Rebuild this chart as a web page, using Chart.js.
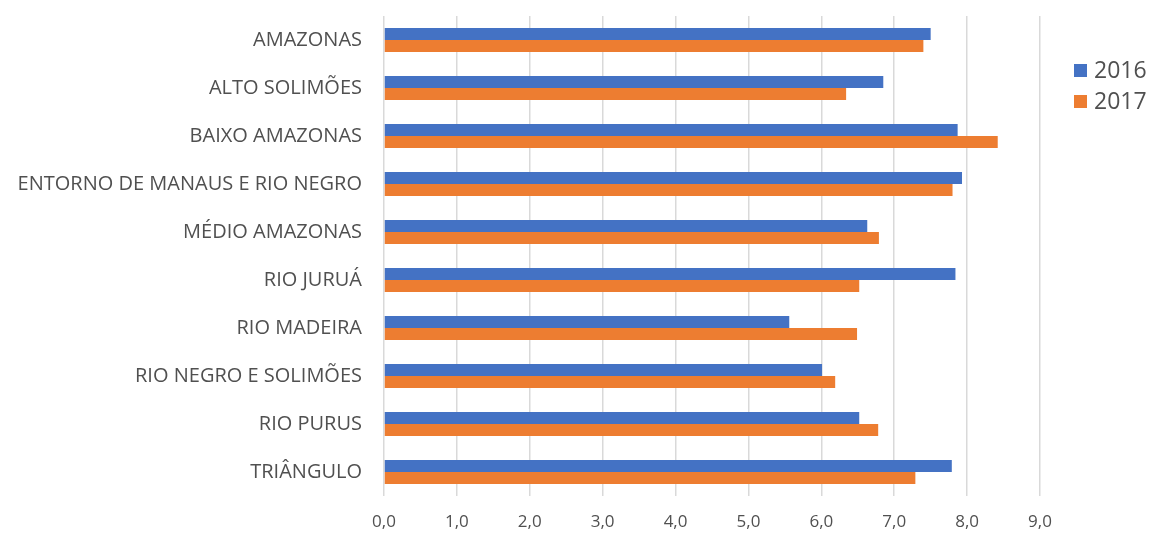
<!DOCTYPE html>
<html>
<head>
<meta charset="utf-8">
<script src="https://cdn.jsdelivr.net/npm/chart.js@4/dist/chart.umd.min.js"></script>
<style>
  html, body { margin: 0; padding: 0; background: #fff; }
  #wrap { width: 1154px; height: 536px; position: relative; }
</style>
</head>
<body>
<div id="wrap"><canvas id="myChart"></canvas></div>
<script>
const categories = [
    'AMAZONAS',
    'ALTO SOLIMÕES',
    'BAIXO AMAZONAS',
    'ENTORNO DE MANAUS E RIO NEGRO',
    'MÉDIO AMAZONAS',
    'RIO JURUÁ',
    'RIO MADEIRA',
    'RIO NEGRO E SOLIMÕES',
    'RIO PURUS',
    'TRIÂNGULO',
];
const values2016 = [7.50, 6.85, 7.87, 7.93, 6.63, 7.84, 5.56, 6.01, 6.52, 7.79];
const values2017 = [7.40, 6.34, 8.42, 7.80, 6.79, 6.52, 6.49, 6.19, 6.78, 7.29];
const seriesLabels = ['2016', '2017'];
const xTicks = [0, 1, 2, 3, 4, 5, 6, 7, 8, 9];

const blue = '#4472C4';
const orange = '#ED7D31';
const textColor = '#505050';
const gridColor = '#d9d9d9';
const fontFamily = "'Open Sans', sans-serif";

// legend drawn by hand so it can sit near the top right like the original
const sideLegend = {
    id: 'sideLegend',
    afterDraw(chart) {
        const ctx = chart.ctx;
        ctx.save();
        ctx.font = '23px ' + fontFamily;
        ctx.textBaseline = 'middle';
        ctx.textAlign = 'left';
        chart.data.datasets.forEach((ds, i) => {
            const y = 70 + i * 31;
            ctx.fillStyle = ds.backgroundColor;
            ctx.fillRect(1074, y - 6, 13, 13);
            ctx.fillStyle = textColor;
            ctx.fillText(ds.label, 1094, y + 1);
        });
        ctx.restore();
    }
};

const renderChart = () => {
    const el = document.getElementById('myChart');
    new Chart(el, {
        type: 'bar',
        data: {
            labels: categories,
            datasets: [
                { label: seriesLabels[0], data: values2016, backgroundColor: blue },
                { label: seriesLabels[1], data: values2017, backgroundColor: orange },
            ],
        },
        options: {
            indexAxis: 'y',
            responsive: true,
            maintainAspectRatio: false,
            animation: false,
            layout: { padding: { top: 0, right: 114, bottom: 0, left: 0 } },
            datasets: {
                bar: { categoryPercentage: 0.5, barPercentage: 1.0, borderWidth: 0 },
            },
            plugins: {
                legend: { display: false },
                tooltip: { enabled: false },
            },
            scales: {
                x: {
                    min: 0,
                    max: 9,
                    afterBuildTicks: (scale) => { scale.ticks = xTicks.map(v => ({ value: v })); },
                    afterFit: (scale) => { scale.height = 40; },
                    grid: { color: gridColor, lineWidth: 1.5, drawTicks: false },
                    border: { display: false },
                    ticks: {
                        color: textColor,
                        padding: 16,
                        font: { family: fontFamily, size: 17 },
                        callback: (v) => Number(v).toFixed(1).replace('.', ','),
                    },
                },
                y: {
                    afterFit: (scale) => {
                        scale.width = 384;
                        // tick padding would otherwise push the plot down
                        scale.paddingTop = 16;
                        scale.paddingBottom = 0;
                    },
                    grid: { display: false, drawTicks: false },
                    border: { display: false },
                    ticks: {
                        color: textColor,
                        padding: 22,
                        font: { family: fontFamily, size: 20 },
                    },
                },
            },
        },
        plugins: [sideLegend],
    });
};

renderChart();
</script>
</body>
</html>
